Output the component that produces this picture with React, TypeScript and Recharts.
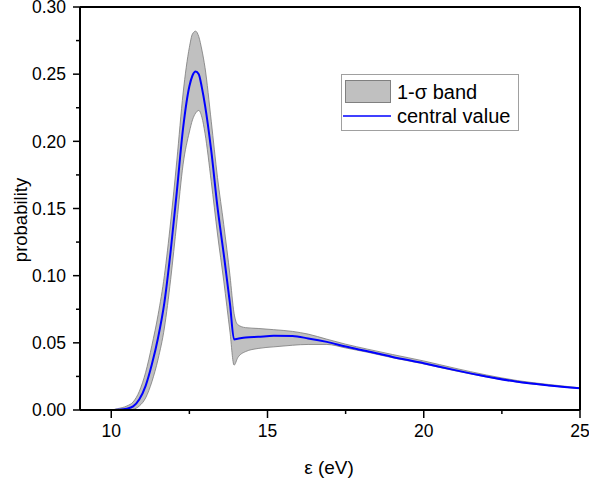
import React from 'react';
import { ComposedChart, Area, Line, XAxis, YAxis, ReferenceLine, Legend, Label } from 'recharts';

const energy = [9, 10, 10.2, 10.5, 10.7, 10.9, 11.1, 11.3, 11.5, 11.7, 11.9, 12.1, 12.3, 12.5, 12.6, 12.7, 12.8, 12.9, 13.0, 13.2, 13.4, 13.6, 13.8, 13.93, 14.05, 14.3, 14.7, 15.2, 15.8, 16.3, 16.9, 17.5, 18.2, 19, 20, 21, 22, 23, 24, 25];
const centralValue = [0, 0, 0.0002, 0.001, 0.0027, 0.008, 0.018, 0.034, 0.054, 0.08, 0.118, 0.163, 0.21, 0.241, 0.249, 0.252, 0.25, 0.24, 0.227, 0.193, 0.151, 0.116, 0.079, 0.0525, 0.053, 0.054, 0.0545, 0.0552, 0.055, 0.0533, 0.0507, 0.0472, 0.0437, 0.0395, 0.0348, 0.0297, 0.0250, 0.021, 0.0183, 0.0161];
const bandLower = [0, 0, 0, 0, 0.0005, 0.003, 0.009, 0.021, 0.038, 0.061, 0.097, 0.14, 0.183, 0.207, 0.216, 0.221, 0.223, 0.218, 0.206, 0.17, 0.131, 0.096, 0.058, 0.0334, 0.039, 0.0435, 0.0458, 0.047, 0.0482, 0.0488, 0.0488, 0.0462, 0.043, 0.0389, 0.0343, 0.0292, 0.0246, 0.0207, 0.0181, 0.0159];
const bandUpper = [0, 0.0001, 0.001, 0.003, 0.006, 0.014, 0.028, 0.048, 0.071, 0.1, 0.14, 0.186, 0.236, 0.27, 0.28, 0.282, 0.278, 0.268, 0.255, 0.215, 0.173, 0.138, 0.1, 0.072, 0.0635, 0.0613, 0.0607, 0.0598, 0.0585, 0.0565, 0.0527, 0.049, 0.0453, 0.0413, 0.0365, 0.0311, 0.0261, 0.0219, 0.019, 0.0165];

const xTicks = [10, 12.5, 15, 17.5, 20, 22.5, 25];
const xMajorTicks = [10, 15, 20, 25];
const yTicks = [0, 0.025, 0.05, 0.075, 0.1, 0.125, 0.15, 0.175, 0.2, 0.225, 0.25, 0.275, 0.3];
const yMajorTicks = [0, 0.05, 0.1, 0.15, 0.2, 0.25, 0.3];

const data = energy.map((x, i) => ({
  x,
  band: [bandLower[i], bandUpper[i]],
  central: centralValue[i],
}));

const FONT = '"Liberation Sans", Arial, sans-serif';

const isMajor = (list: number[], v: number) => list.some((m) => Math.abs(m - v) < 1e-9);

function YTick(props: any) {
  const { x, y, payload } = props;
  const v = payload.value;
  const major = isMajor(yMajorTicks, v);
  return (
    <g>
      <line x1={x - (major ? 7 : 4)} x2={x} y1={y} y2={y} stroke="#000" strokeWidth={1.5} />
      {major && (
        <text x={x - 14} y={y} dy="0.36em" textAnchor="end" fontSize={17.5} fontFamily={FONT} fill="#000">
          {v.toFixed(2)}
        </text>
      )}
    </g>
  );
}

function XTick(props: any) {
  const { x, y, payload } = props;
  const v = payload.value;
  const major = isMajor(xMajorTicks, v);
  return (
    <g>
      <line x1={x} x2={x} y1={y} y2={y + (major ? 8 : 4)} stroke="#000" strokeWidth={1.5} />
      {major && (
        <text x={x} y={y + 15} dy="0.71em" textAnchor="middle" fontSize={17.5} fontFamily={FONT} fill="#000">
          {String(v)}
        </text>
      )}
    </g>
  );
}

function LegendBox(props: any) {
  const payload = props.payload || [];
  const band = payload.find((p: any) => p.dataKey === 'band');
  const line = payload.find((p: any) => p.dataKey === 'central');
  return (
    <svg width={178} height={57} style={{ display: 'block' }}>
      <rect x={0.5} y={0.5} width={177} height={56} fill="#fff" stroke="#a0a0a0" strokeWidth={1} />
      <rect x={4.5} y={6.5} width={45} height={22} fill="#c0c0c0" stroke="#808080" strokeWidth={1} />
      <text x={56} y={17.5} dy="0.36em" fontSize={20} fontFamily={FONT} fill="#000">
        {band ? band.value : ''}
      </text>
      <line x1={2} x2={50} y1={42} y2={42} stroke="#0000ff" strokeWidth={1.5} />
      <text x={56} y={42} dy="0.36em" fontSize={20} fontFamily={FONT} fill="#000">
        {line ? line.value : ''}
      </text>
    </svg>
  );
}

export default function App() {
  return (
    <div style={{ position: 'absolute', left: 0, top: 0, width: 589, height: 481, background: '#fff' }}>
      <ComposedChart width={589} height={481} data={data} margin={{ top: 7, right: 9, bottom: 0, left: 0 }}>
        <XAxis
          dataKey="x"
          type="number"
          domain={[9, 25]}
          ticks={xTicks}
          interval={0}
          allowDataOverflow
          height={71}
          tickSize={0}
          tickMargin={0}
          tickLine={false}
          tick={<XTick />}
          axisLine={{ stroke: '#000', strokeWidth: 2 }}
        >
          <Label
            content={() => (
              <text x={329} y={467} dy="0.36em" textAnchor="middle" fontSize={19} fontFamily={FONT} fill="#000">
                ε (eV)
              </text>
            )}
          />
        </XAxis>
        <YAxis
          type="number"
          domain={[0, 0.3]}
          ticks={yTicks}
          interval={0}
          allowDataOverflow
          width={80}
          tickSize={0}
          tickMargin={0}
          tickLine={false}
          tick={<YTick />}
          axisLine={{ stroke: '#000', strokeWidth: 2 }}
        >
          <Label
            content={() => (
              <text
                x={20}
                y={220}
                dy="0.36em"
                transform="rotate(-90 20 220)"
                textAnchor="middle"
                fontSize={18.5}
                fontFamily={FONT}
                fill="#000"
              >
                probability
              </text>
            )}
          />
        </YAxis>
        <Area
          dataKey="band"
          name="1-σ band"
          type="monotone"
          stroke="#7a7a7a"
          strokeWidth={0.8}
          fill="#c0c0c0"
          fillOpacity={1}
          isAnimationActive={false}
          dot={false}
          activeDot={false}
        />
        <Line
          dataKey="central"
          name="central value"
          type="monotone"
          stroke="#0000ff"
          strokeWidth={2}
          dot={false}
          activeDot={false}
          isAnimationActive={false}
        />
        <ReferenceLine y={0.3} stroke="#000" strokeWidth={2} />
        <ReferenceLine x={25} stroke="#000" strokeWidth={2} />
        <Legend
          layout="horizontal"
          verticalAlign="middle"
          align="center"
          content={<LegendBox />}
          wrapperStyle={{ position: 'absolute', left: 341, top: 74, width: 178, height: 57 }}
        />
      </ComposedChart>
    </div>
  );
}
